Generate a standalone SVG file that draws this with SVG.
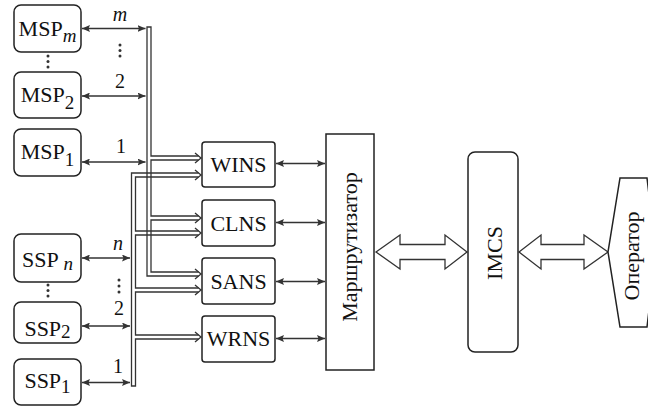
<svg xmlns="http://www.w3.org/2000/svg" width="648" height="406" viewBox="0 0 648 406">
<style>
text{font-family:"Liberation Serif","Times New Roman",Times,serif;font-size:22px;fill:#111}
.box{fill:#fff;stroke:#222;stroke-width:1.5}
.bus{fill:none;stroke:#333;stroke-width:1.3}
.ln{fill:none;stroke:#333;stroke-width:1.3}
.big{fill:#fff;stroke:#333;stroke-width:1.3;stroke-linejoin:miter}
.dot{fill:#333}
.sub{font-size:19px}
.lbl{font-size:20px}
</style>
<defs>
<marker id="ah" viewBox="0 0 8 7" refX="8" refY="3.5" markerWidth="8" markerHeight="7" markerUnits="userSpaceOnUse" orient="auto-start-reverse">
<path d="M0,0 L8,3.5 L0,7 L1.5,3.5 z" fill="#333"/>
</marker>
</defs>

<g id="connectors">
<path class="bus" d="M198.5,156 H151 V27 H147 V276 H198.5"/>
<path class="bus" d="M198.5,160 H151 V216 H198.5"/>
<path class="bus" d="M198.5,220 H151 V272 H198.5"/>
<path class="bus" d="M198.5,173 H131.5 V386 H135.5 V339 H198.5"/>
<path class="bus" d="M198.5,335 H135.5 V292 H198.5"/>
<path class="bus" d="M198.5,288 H135.5 V235 H198.5"/>
<path class="bus" d="M198.5,231 H135.5 V177 H198.5"/>
<path class="ln" d="M195,153 L201,158 L195,163"/>
<path class="ln" d="M195,170 L201,175 L195,180"/>
<path class="ln" d="M195,213 L201,218 L195,223"/>
<path class="ln" d="M195,228 L201,233 L195,238"/>
<path class="ln" d="M195,269 L201,274 L195,279"/>
<path class="ln" d="M195,285 L201,290 L195,295"/>
<path class="ln" d="M195,332 L201,337 L195,342"/>
<line class="ln" x1="82" y1="28.5" x2="145.5" y2="28.5" marker-start="url(#ah)" marker-end="url(#ah)"/>
<line class="ln" x1="82" y1="96" x2="145.5" y2="96" marker-start="url(#ah)" marker-end="url(#ah)"/>
<line class="ln" x1="82" y1="162" x2="145.5" y2="162" marker-start="url(#ah)" marker-end="url(#ah)"/>
<line class="ln" x1="82" y1="258" x2="130" y2="258" marker-start="url(#ah)" marker-end="url(#ah)"/>
<line class="ln" x1="82" y1="326" x2="130" y2="326" marker-start="url(#ah)" marker-end="url(#ah)"/>
<line class="ln" x1="82" y1="382.5" x2="130" y2="382.5" marker-start="url(#ah)" marker-end="url(#ah)"/>
<line class="ln" x1="276" y1="163.5" x2="325" y2="163.5" marker-start="url(#ah)" marker-end="url(#ah)"/>
<line class="ln" x1="276" y1="222.5" x2="325" y2="222.5" marker-start="url(#ah)" marker-end="url(#ah)"/>
<line class="ln" x1="276" y1="281.5" x2="325" y2="281.5" marker-start="url(#ah)" marker-end="url(#ah)"/>
<line class="ln" x1="276" y1="338.5" x2="325" y2="338.5" marker-start="url(#ah)" marker-end="url(#ah)"/>
<polygon class="big" points="376,252 400,235 400,244.5 445,244.5 445,235 467,252 445,269 445,259.5 400,259.5 400,269"/>
<polygon class="big" points="519,252 541,235 541,244.5 584,244.5 584,235 608,252 584,269 584,259.5 541,259.5 541,269"/>
<circle class="dot" cx="48" cy="56" r="1.5"/><circle class="dot" cx="48" cy="61.5" r="1.5"/><circle class="dot" cx="48" cy="67" r="1.5"/>
<circle class="dot" cx="120" cy="45" r="1.5"/><circle class="dot" cx="120" cy="50.5" r="1.5"/><circle class="dot" cx="120" cy="56" r="1.5"/>
<circle class="dot" cx="48" cy="285" r="1.5"/><circle class="dot" cx="48" cy="290.5" r="1.5"/><circle class="dot" cx="48" cy="296" r="1.5"/>
<circle class="dot" cx="119" cy="280" r="1.5"/><circle class="dot" cx="119" cy="286" r="1.5"/><circle class="dot" cx="119" cy="292" r="1.5"/>
<text class="lbl" x="120" y="21" text-anchor="middle" font-style="italic">m</text>
<text class="lbl" x="120" y="88" text-anchor="middle">2</text>
<text class="lbl" x="121" y="153" text-anchor="middle">1</text>
<text class="lbl" x="118" y="250" text-anchor="middle" font-style="italic">n</text>
<text class="lbl" x="119" y="315" text-anchor="middle">2</text>
<text class="lbl" x="118" y="373" text-anchor="middle">1</text>
</g>

<g id="msp_m"><rect class="box" x="14" y="5" width="67" height="47" rx="7"/><text x="47.5" y="36" text-anchor="middle">MSP<tspan class="sub" dy="6" font-style="italic">m</tspan></text></g>
<g id="msp_2"><rect class="box" x="14" y="72" width="67" height="46" rx="7"/><text x="47.5" y="102" text-anchor="middle">MSP<tspan class="sub" dy="7">2</tspan></text></g>
<g id="msp_1"><rect class="box" x="14" y="129" width="67" height="47" rx="7"/><text x="47.5" y="159" text-anchor="middle">MSP<tspan class="sub" dy="7">1</tspan></text></g>

<g id="ssp_n"><rect class="box" x="14" y="234" width="67" height="48" rx="7"/><text x="47.5" y="267" text-anchor="middle">SSP<tspan class="sub" dy="3" font-style="italic"> n</tspan></text></g>
<g id="ssp_2"><rect class="box" x="14" y="302" width="67" height="41" rx="7"/><text x="47.5" y="336" text-anchor="middle">SSP<tspan class="sub" dy="2">2</tspan></text></g>
<g id="ssp_1"><rect class="box" x="14" y="359" width="67" height="46" rx="7"/><text x="47.5" y="388" text-anchor="middle">SSP<tspan class="sub" dy="5">1</tspan></text></g>

<g id="wins"><rect class="box" x="202" y="142" width="73" height="45" rx="3"/><text x="238.5" y="172" text-anchor="middle">WINS</text></g>
<g id="clns"><rect class="box" x="202" y="200" width="73" height="46" rx="3"/><text x="238.5" y="230.5" text-anchor="middle">CLNS</text></g>
<g id="sans"><rect class="box" x="202" y="258" width="73" height="46" rx="3"/><text x="238.5" y="288.5" text-anchor="middle">SANS</text></g>
<g id="wrns"><rect class="box" x="202" y="316" width="73" height="46" rx="3"/><text x="238.5" y="346" text-anchor="middle">WRNS</text></g>

<g id="router"><rect class="box" x="326" y="134" width="48" height="236"/><text transform="translate(357,247) rotate(-90)" text-anchor="middle">Маршрутизатор</text></g>
<g id="imcs"><rect class="box" x="468" y="152" width="50" height="200" rx="7"/><text transform="translate(502,253) rotate(-90)" text-anchor="middle">IMCS</text></g>
<g id="operator"><polygon class="box" points="620,178 647,178 656,252 647,327 620,327 608,252"/><text transform="translate(639,256) rotate(-90)" text-anchor="middle">Оператор</text></g>
</svg>
